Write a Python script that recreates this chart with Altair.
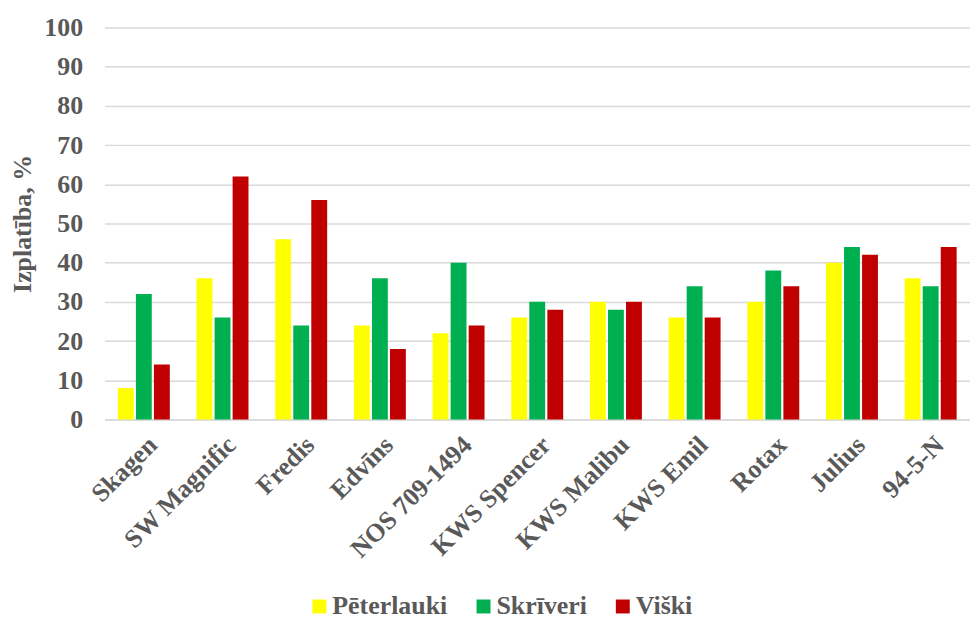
import altair as alt
import pandas as pd

categories = ["Skagen", "SW Magnific", "Fredis", "Edvīns", "NOS 709-1494", "KWS Spencer",
              "KWS Malibu", "KWS Emil", "Rotax", "Julius", "94-5-N"]
series = ["Pēterlauki", "Skrīveri", "Viški"]
peterlauki = [8, 36, 46, 24, 22, 26, 30, 26, 30, 40, 36]
skriveri = [32, 26, 24, 36, 40, 30, 28, 34, 38, 44, 34]
viski = [14, 62, 56, 18, 24, 28, 30, 26, 34, 42, 44]
colors = ["#FFFF00", "#00B050", "#C00000"]

rows = []
for name, vals in zip(series, [peterlauki, skriveri, viski]):
    for c, v in zip(categories, vals):
        rows.append({"Šķirne": c, "Vieta": name, "Izplatība": v})
df = pd.DataFrame(rows)

FONT = "Liberation Serif"
GRAY = "#595959"
FS = 26

chart = alt.Chart(df).mark_bar().encode(
    x=alt.X("Šķirne:N", sort=categories,
            scale=alt.Scale(paddingInner=0.34, paddingOuter=0.17),
            axis=alt.Axis(title=None, labelAngle=315, labelFontSize=FS, labelFont=FONT,
                          labelFontWeight="bold", labelColor=GRAY, ticks=False,
                          domainColor="#D9D9D9", domainWidth=1.5, labelPadding=12)),
    xOffset=alt.XOffset("Vieta:N", sort=series, scale=alt.Scale(paddingInner=0.12)),
    y=alt.Y("Izplatība:Q", scale=alt.Scale(domain=[0, 100]),
            axis=alt.Axis(title="Izplatība, %", values=list(range(0, 101, 10)),
                          labelFontSize=FS, labelFont=FONT, labelFontWeight="bold",
                          labelColor=GRAY, titleFont=FONT, titleFontSize=FS,
                          titleFontWeight="bold", titleColor=GRAY, ticks=False,
                          domain=False, gridColor="#D9D9D9", gridWidth=1.5,
                          labelPadding=22, titlePadding=8)),
    color=alt.Color("Vieta:N", sort=series,
                    scale=alt.Scale(domain=series, range=colors),
                    legend=alt.Legend(title=None, orient="none", direction="horizontal",
                                      legendX=203, legendY=569, symbolType="square",
                                      symbolSize=196, symbolStrokeWidth=0,
                                      labelFont=FONT, labelFontSize=FS,
                                      labelFontWeight="bold", labelColor=GRAY,
                                      columnPadding=23, labelOffset=0)),
).properties(
    width=870, height=394,
    autosize=alt.AutoSizeParams(type="none"),
    padding={"left": 97, "top": 18, "right": 0, "bottom": 200},
).configure(font=FONT).configure_view(stroke=None)

chart.save("out.html", embed_options={"renderer": "svg", "actions": False})
